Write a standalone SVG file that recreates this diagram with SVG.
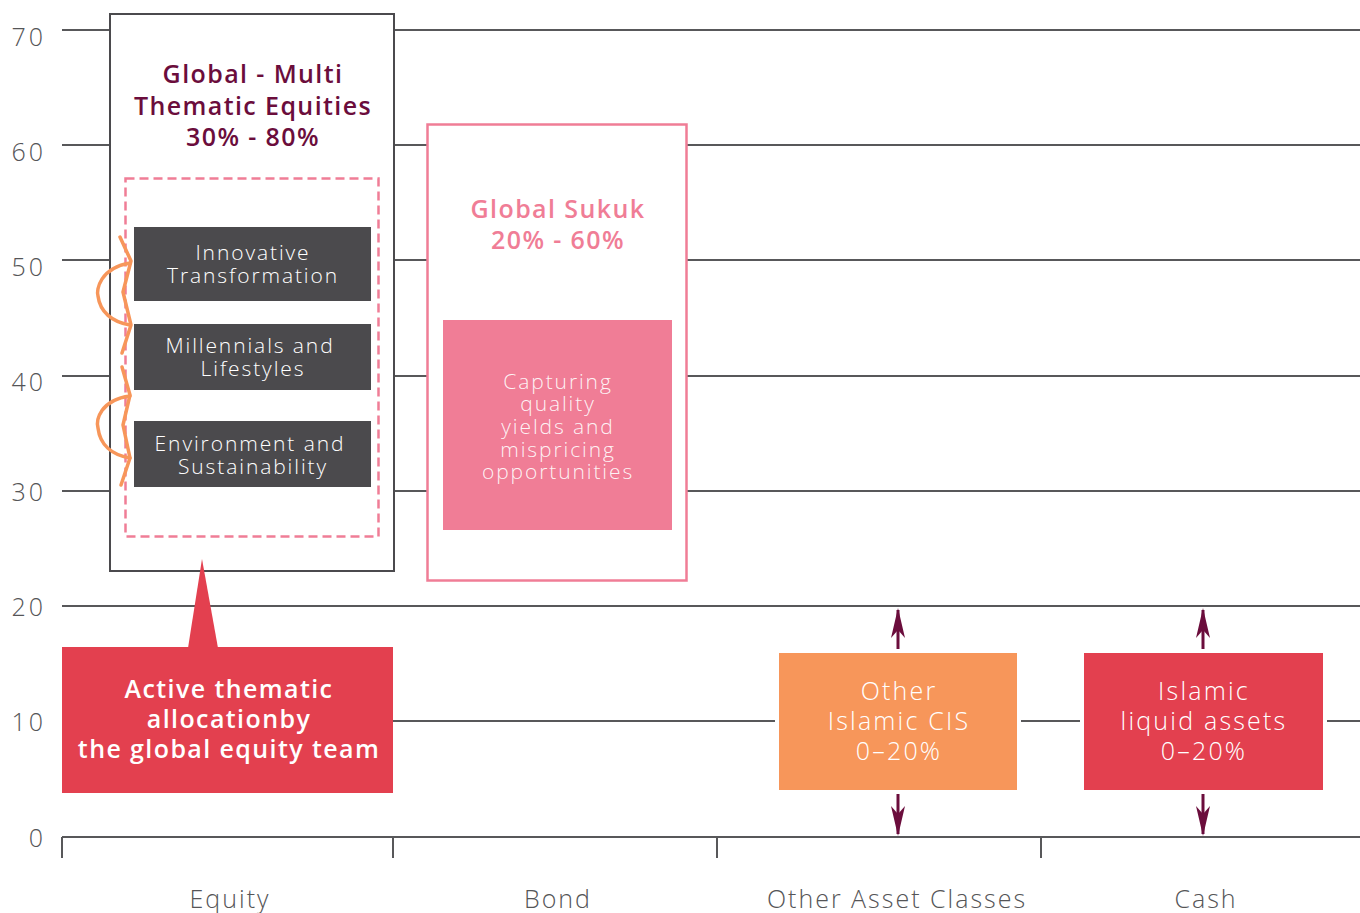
<svg xmlns="http://www.w3.org/2000/svg" width="1360" height="913" viewBox="0 0 1360 913">
<style>
.grid{stroke:#58585a;stroke-width:2;fill:none}
.ax{font-family:"Open Sans","Liberation Sans",sans-serif;font-weight:300;font-size:25px;fill:#555557}
.axl{text-anchor:end;letter-spacing:3px}
.cat{text-anchor:middle;letter-spacing:2px}
.ttl{font-family:"Open Sans","Liberation Sans",sans-serif;font-weight:600;font-size:25px;text-anchor:middle;letter-spacing:1.4px}
.lt{font-family:"Open Sans","Liberation Sans",sans-serif;font-weight:300;text-anchor:middle;fill:#ffffff;letter-spacing:1.9px}
.arr{stroke:#6b0d3c;stroke-width:3;fill:none}
.orn{stroke:#f7965a;stroke-width:3.5;fill:none;stroke-linecap:round;stroke-linejoin:round}
</style>
<defs>
<marker id="ah" viewBox="0 0 30 16" refX="28" refY="8" markerWidth="30" markerHeight="16" markerUnits="userSpaceOnUse" orient="auto">
<path d="M0,1 L30,8 L0,15 L8,8 Z" fill="#6b0d3c"/>
</marker>
</defs>
<rect width="1360" height="913" fill="#ffffff"/>
<g id="axes">
<path class="grid" d="M62,30H1360M62,145H1360M62,260H1360M62,376H1360M62,491H1360M62,606H1360M62,721H1360M62,837H1360"/>
<path class="grid" d="M62,837V858M393,837V858M717,837V858M1041,837V858"/>
<text class="ax axl" x="46" y="46">70</text>
<text class="ax axl" x="46" y="161">60</text>
<text class="ax axl" x="46" y="276">50</text>
<text class="ax axl" x="46" y="391">40</text>
<text class="ax axl" x="46" y="501">30</text>
<text class="ax axl" x="46" y="616">20</text>
<text class="ax axl" x="46" y="731">10</text>
<text class="ax axl" x="46" y="847">0</text>
<text class="ax cat" x="230" y="908">Equity</text>
<text class="ax cat" x="558" y="908">Bond</text>
<text class="ax cat" x="897" y="908">Other Asset Classes</text>
<text class="ax cat" x="1206" y="908">Cash</text>
</g>
<g id="equity">
<rect x="110" y="14" width="284" height="557" fill="#ffffff" stroke="#4b4a4d" stroke-width="2"/>
<text class="ttl" fill="#6b0d3c"><tspan x="253" y="83">Global - Multi</tspan><tspan x="253" y="115">Thematic Equities</tspan><tspan x="253" y="146">30% - 80%</tspan></text>
<rect x="125.5" y="178.5" width="253" height="358" fill="none" stroke="#f07d96" stroke-width="2.5" stroke-dasharray="9,5"/>
</g>
<g id="theme-innovative">
<rect x="134" y="227" width="237" height="74" fill="#4b4a4d"/>
<text class="lt" font-size="21"><tspan x="253" y="260">Innovative</tspan><tspan x="253" y="283">Transformation</tspan></text>
</g>
<g id="theme-millennials">
<rect x="134" y="324" width="237" height="66" fill="#4b4a4d"/>
<text class="lt" font-size="21"><tspan x="250" y="353">Millennials and</tspan><tspan x="253" y="376">Lifestyles</tspan></text>
</g>
<g id="theme-environment">
<rect x="134" y="421" width="237" height="66" fill="#4b4a4d"/>
<text class="lt" font-size="21"><tspan x="250" y="451">Environment and</tspan><tspan x="253" y="474">Sustainability</tspan></text>
</g>
<g id="rotation">
<path class="orn" d="M120,237 L131,261 L123,292 L131,325 L122,353"/>
<path class="orn" d="M130,263 C100,268 96,290 98,296 C100,312 112,322 130,325"/>
<path class="orn" d="M122,367 L130,395 L123,425 L130,458 L121,485"/>
<path class="orn" d="M130,396 C100,400 96,420 98,428 C100,445 112,455 130,458"/>
</g>
<g id="sukuk">
<rect x="427.5" y="124.5" width="259" height="456" fill="#ffffff" stroke="#f07d96" stroke-width="2.5"/>
<text class="ttl" fill="#f07d96"><tspan x="558" y="218">Global Sukuk</tspan><tspan x="558" y="249">20% - 60%</tspan></text>
</g>
<g id="sukuk-strategy">
<rect x="443" y="320" width="229" height="210" fill="#f07d96"/>
<text class="lt" font-size="21" fill-opacity="0.92"><tspan x="558" y="389">Capturing</tspan><tspan x="558" y="411">quality</tspan><tspan x="558" y="434">yields and</tspan><tspan x="558" y="457">mispricing</tspan><tspan x="558" y="479">opportunities</tspan></text>
</g>
<g id="callout">
<path d="M202,559 L218,648 L188,648 Z" fill="#e3404f"/>
<rect x="62" y="647" width="331" height="146" fill="#e3404f"/>
<text class="ttl" fill="#ffffff"><tspan x="229" y="698">Active thematic</tspan><tspan x="229" y="728">allocationby</tspan><tspan x="229" y="758">the global equity team</tspan></text>
</g>
<g id="other-cis">
<rect x="777" y="651" width="242" height="141" fill="#f7965a" stroke="#ffffff" stroke-width="4"/>
<text class="lt" font-size="25" style="letter-spacing:2.2px"><tspan x="899" y="700">Other</tspan><tspan x="899" y="730">Islamic CIS</tspan><tspan x="899" y="760">0–20%</tspan></text>
</g>
<g id="islamic-liquid">
<rect x="1082" y="651" width="243" height="141" fill="#e3404f" stroke="#ffffff" stroke-width="4"/>
<text class="lt" font-size="25" style="letter-spacing:2.2px"><tspan x="1204" y="700">Islamic</tspan><tspan x="1204" y="730">liquid assets</tspan><tspan x="1204" y="760">0–20%</tspan></text>
</g>
<g id="connectors">
<line class="arr" x1="898" y1="649" x2="898" y2="610" marker-end="url(#ah)"/>
<line class="arr" x1="898" y1="794" x2="898" y2="834" marker-end="url(#ah)"/>
<line class="arr" x1="1203" y1="649" x2="1203" y2="610" marker-end="url(#ah)"/>
<line class="arr" x1="1203" y1="794" x2="1203" y2="834" marker-end="url(#ah)"/>
</g>
</svg>
